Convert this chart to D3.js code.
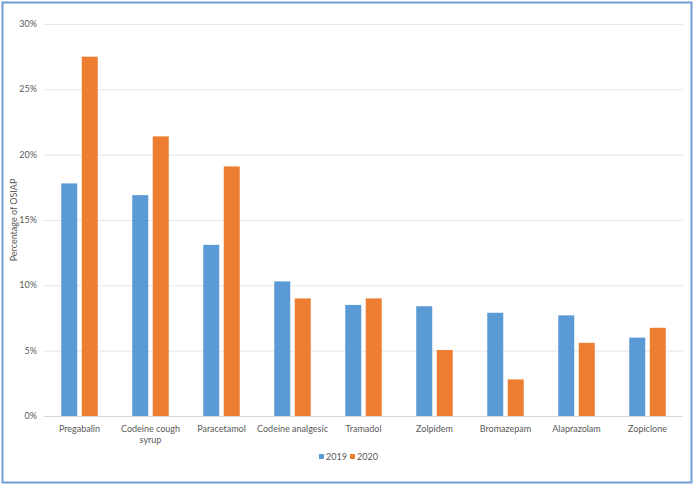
<!DOCTYPE html>
<html>
<head>
<meta charset="utf-8">
<script src="https://cdn.jsdelivr.net/npm/d3@7"></script>
<style>
  body { margin: 0; background: #fff; }
  #graph { width: 694px; height: 485px; }
  text { font-family: Lato, "Open Sans", sans-serif; fill: #595959; }
</style>
</head>
<body>
<div id="graph"></div>
<script>
// drugs, values in percent of OSIAP
const drugs = ["Pregabalin", "Codeine cough syrup", "Paracetamol", "Codeine analgesic",
  "Tramadol", "Zolpidem", "Bromazepam", "Alaprazolam", "Zopiclone"];
const years = ["2019", "2020"];
const values2019 = [17.8, 16.9, 13.1, 10.3, 8.5, 8.4, 7.9, 7.7, 6.0];
const values2020 = [27.5, 21.4, 19.1, 9.0, 9.0, 5.05, 2.8, 5.6, 6.75];
const yTicks = [0, 5, 10, 15, 20, 25, 30];
const colors = ["#5b9bd5", "#ed7d31"];

const W = 694, H = 485;
const margin = { left: 44, right: 11, top: 24, bottom: 69 };
const width = W - margin.left - margin.right;
const height = H - margin.top - margin.bottom;

const root = d3.select("#graph").append("svg")
  .attr("width", W)
  .attr("height", H);

// outer frame
root.append("rect")
  .attr("x", 2.5).attr("y", 2.5)
  .attr("width", 689).attr("height", 480)
  .attr("fill", "none")
  .attr("stroke", "#6f9ed6")
  .attr("stroke-width", 2);

const svg = root.append("g")
  .attr("transform", "translate(" + margin.left + "," + margin.top + ")");

const x = d3.scaleBand().domain(drugs).range([0, width]);
const y = d3.scaleLinear().domain([0, 30]).range([height, 0]);

//gridlines
svg.append("g")
  .selectAll("line")
  .data(yTicks)
  .enter()
  .append("line")
  .attr("x1", 0)
  .attr("x2", width)
  .attr("y1", d => y(d) + 0.5)
  .attr("y2", d => y(d) + 0.5)
  .attr("stroke", d => d === 0 ? "#d9d9d9" : "#e6e6e6")
  .attr("stroke-width", 1);

// y tick labels
svg.append("g")
  .selectAll("text")
  .data(yTicks)
  .enter()
  .append("text")
  .attr("x", -7)
  .attr("y", d => y(d))
  .attr("dy", "0.35em")
  .attr("text-anchor", "end")
  .style("font-size", "9px")
  .text(d => d + "%");

// bars
const barW = 16, gap = 4.5;
const rows = drugs.map((d, i) => ({ drug: d, vals: [values2019[i], values2020[i]] }));
const groups = svg.append("g")
  .selectAll("g")
  .data(rows)
  .enter()
  .append("g")
  .attr("transform", d => "translate(" + (x(d.drug) + x.bandwidth() / 2) + ",0)");

groups.selectAll("rect")
  .data(d => d.vals)
  .enter()
  .append("rect")
  .attr("x", (d, i) => i === 0 ? -barW - gap / 2 : gap / 2)
  .attr("y", d => y(d))
  .attr("width", barW)
  .attr("height", d => y(0) - y(d))
  .attr("fill", (d, i) => colors[i]);

// x labels (wrap long ones)
const xLab = svg.append("g")
  .selectAll("text")
  .data(drugs)
  .enter()
  .append("text")
  .attr("x", d => x(d) + x.bandwidth() / 2)
  .attr("y", height + 16)
  .attr("text-anchor", "middle")
  .style("font-size", "9px");

xLab.each(function (d) {
  const lines = d === "Codeine cough syrup" ? ["Codeine cough", "syrup"] : [d];
  d3.select(this).selectAll("tspan")
    .data(lines)
    .enter()
    .append("tspan")
    .attr("x", x(d) + x.bandwidth() / 2)
    .attr("dy", (l, i) => i === 0 ? 0 : "1.2em")
    .text(l => l);
});

// y axis title
root.append("text")
  .attr("transform", "translate(17," + (margin.top + height / 2) + ") rotate(-90)")
  .attr("text-anchor", "middle")
  .style("font-size", "9px")
  .text("Percentage of OSIAP");

// legend
const legend = root.append("g")
  .selectAll("g")
  .data(years)
  .enter()
  .append("g")
  .attr("transform", (d, i) => "translate(" + (319 + i * 31) + ",457)");

legend.append("rect")
  .attr("x", 0).attr("y", -3)
  .attr("width", 5).attr("height", 5)
  .attr("fill", (d, i) => colors[i]);

legend.append("text")
  .attr("x", 7)
  .attr("y", 0)
  .attr("dy", "0.35em")
  .style("font-size", "9px")
  .text(d => d);
</script>
</body>
</html>
